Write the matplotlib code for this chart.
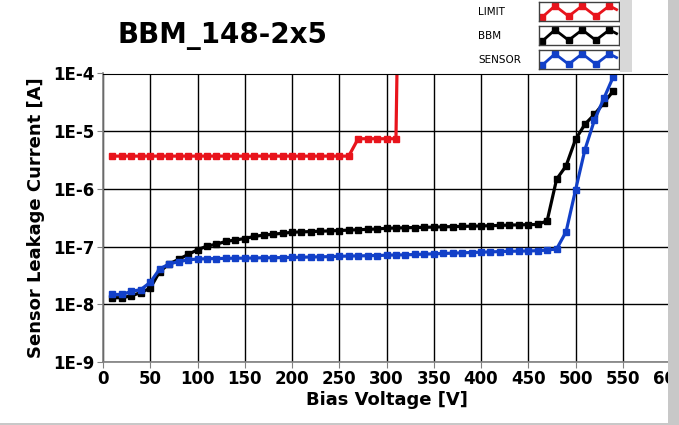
import numpy as np
import matplotlib
matplotlib.use("Agg")
import matplotlib.pyplot as plt
from matplotlib.patches import Rectangle

# -------------------------------
# DATA
# -------------------------------
limit_v = [10, 20, 30, 40, 50, 60, 70, 80, 90, 100, 110, 120, 130, 140, 150,
           160, 170, 180, 190, 200, 210, 220, 230, 240, 250, 260,
           270, 280, 290, 300, 310, 312]
limit_i = [3.7e-6] * 26 + [7.4e-6] * 5 + [1e-3]

bbm_v = list(range(10, 550, 10))
bbm_i = [1.3e-8, 1.3e-8, 1.4e-8, 1.6e-8, 1.9e-8, 3.7e-8, 5.0e-8, 6.0e-8, 7.3e-8, 8.8e-8,
         1.02e-7, 1.1e-7, 1.23e-7, 1.3e-7, 1.38e-7, 1.5e-7, 1.58e-7, 1.64e-7, 1.7e-7, 1.77e-7,
         1.8e-7, 1.82e-7, 1.85e-7, 1.87e-7, 1.9e-7, 1.93e-7, 1.96e-7, 1.99e-7, 2.02e-7, 2.08e-7,
         2.1e-7, 2.12e-7, 2.14e-7, 2.16e-7, 2.18e-7, 2.2e-7, 2.22e-7, 2.24e-7, 2.26e-7, 2.28e-7,
         2.3e-7, 2.33e-7, 2.36e-7, 2.38e-7, 2.4e-7, 2.42e-7, 2.8e-7, 1.47e-6, 2.5e-6, 7.2e-6,
         1.32e-5, 1.95e-5, 3.1e-5, 5.0e-5]

sensor_v = list(range(10, 550, 10))
sensor_i = [1.48e-8, 1.48e-8, 1.67e-8, 1.8e-8, 2.4e-8, 4.1e-8, 5.0e-8, 5.5e-8, 5.9e-8, 6.1e-8,
            6.15e-8, 6.2e-8, 6.25e-8, 6.3e-8, 6.3e-8, 6.35e-8, 6.4e-8, 6.4e-8, 6.45e-8, 6.5e-8,
            6.55e-8, 6.6e-8, 6.65e-8, 6.7e-8, 6.8e-8, 6.85e-8, 6.9e-8, 6.95e-8, 7.0e-8, 7.1e-8,
            7.15e-8, 7.2e-8, 7.3e-8, 7.4e-8, 7.5e-8, 7.6e-8, 7.7e-8, 7.8e-8, 7.9e-8, 8.0e-8,
            8.1e-8, 8.2e-8, 8.3e-8, 8.35e-8, 8.4e-8, 8.5e-8, 8.7e-8, 9.1e-8, 1.8e-7, 9.5e-7,
            4.8e-6, 1.55e-5, 3.7e-5, 8.8e-5]

x_ticks = list(range(0, 650, 50))
y_ticks = [1e-9, 1e-8, 1e-7, 1e-6, 1e-5, 1e-4]
y_tick_labels = ["1E-9", "1E-8", "1E-7", "1E-6", "1E-5", "1E-4"]

series_names = ["LIMIT", "BBM", "SENSOR"]
series_colors = ["#e8141c", "#000000", "#1240c8"]

# -------------------------------
# FIGURE
# -------------------------------
plt.rcParams["font.family"] = "DejaVu Sans"
fig = plt.figure(figsize=(6.79, 4.25), dpi=100)

ax = fig.add_axes([103 / 679, 63 / 425, 567 / 679, 288.5 / 425])

for xs, ys, c in [(limit_v, limit_i, series_colors[0]),
                  (bbm_v, bbm_i, series_colors[1]),
                  (sensor_v, sensor_i, series_colors[2])]:
    ax.plot(xs, ys, color=c, lw=2.3, marker="s", ms=5, mec=c, mfc=c, clip_on=True)

ax.set_yscale("log")
ax.set_xlim(0, 600)
ax.set_ylim(1e-9, 1e-4)
ax.set_xticks(x_ticks)
ax.set_xticklabels([str(t) for t in x_ticks])
ax.set_yticks(y_ticks)
ax.set_yticklabels(y_tick_labels)
ax.yaxis.set_minor_locator(matplotlib.ticker.NullLocator())
ax.grid(True, color="black", lw=1.0)
ax.set_axisbelow(True)
ax.tick_params(axis="both", direction="out", length=4, color="#808080",
               labelsize=12, pad=2)
for lbl in ax.get_xticklabels() + ax.get_yticklabels():
    lbl.set_fontweight("bold")
for s in ["left", "bottom"]:
    ax.spines[s].set_color("#808080")
    ax.spines[s].set_linewidth(1.2)
ax.spines["top"].set_color("black")
ax.spines["right"].set_color("#808080")

ax.set_xlabel("Bias Voltage [V]", fontsize=13, fontweight="bold", labelpad=2)
ax.set_ylabel("Sensor Leakage Current [A]", fontsize=13, fontweight="bold", labelpad=6)

fig.text(222 / 679, 1 - 36 / 425, "BBM_148-2x5", fontsize=20, fontweight="bold",
         ha="center", va="center")

# -------------------------------
# LEGEND (LabVIEW style)
# -------------------------------
fig.patches.append(Rectangle((620 / 679, 1 - 72 / 425), 12 / 679, 72 / 425,
                             transform=fig.transFigure, facecolor="#d8d8d8",
                             edgecolor="none", zorder=0))
zig_x = [0.04, 0.2, 0.37, 0.54, 0.71, 0.88, 0.97]
zig_y = [0.2, 0.8, 0.25, 0.8, 0.25, 0.8, 0.6]
row_tops = [2, 26, 50]
for name, c, top in zip(series_names, series_colors, row_tops):
    fig.text(478 / 679, 1 - (top + 10) / 425, name, fontsize=7.5, ha="left", va="center")
    lax = fig.add_axes([539 / 679, 1 - (top + 19) / 425, 80 / 679, 19 / 425])
    lax.plot(zig_x, zig_y, color=c, lw=2, marker="s", ms=4,
             markevery=[0, 1, 2, 3, 4, 5])
    lax.set_xlim(0, 1)
    lax.set_ylim(0, 1)
    lax.set_xticks([])
    lax.set_yticks([])
    for s in lax.spines.values():
        s.set_color("#404040")
        s.set_linewidth(1)

# gray window edges, drawn on top like the reference
fig.patches.append(Rectangle((668 / 679, 0), 11 / 679, 1, transform=fig.transFigure,
                             facecolor="#c8c8c8", edgecolor="none", zorder=10))
fig.patches.append(Rectangle((0, 0), 668 / 679, 2 / 425, transform=fig.transFigure,
                             facecolor="#c8c8c8", edgecolor="none", zorder=10))

fig.savefig("out.png", dpi=100)
